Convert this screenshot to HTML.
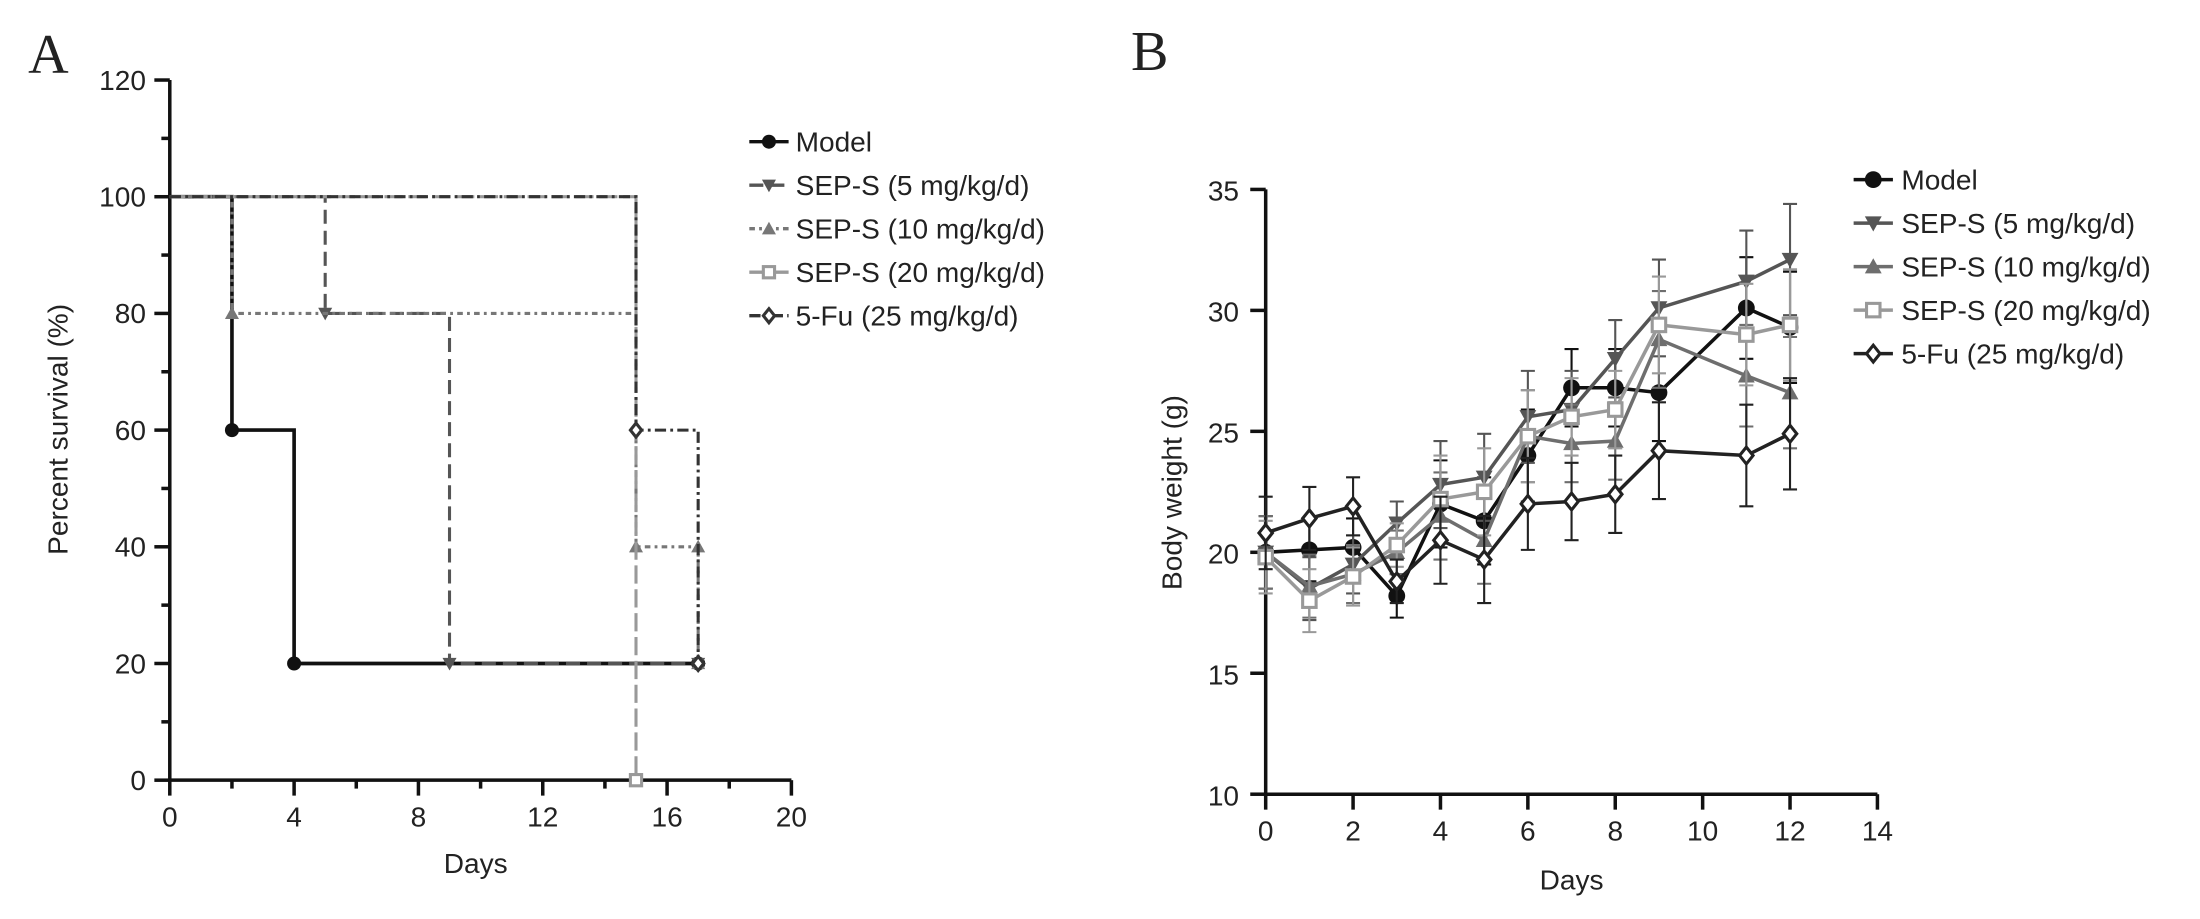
<!DOCTYPE html>
<html><head><meta charset="utf-8"><style>
body{margin:0;background:#fff}
svg text{font-family:"Liberation Sans",Arial,sans-serif;fill:#222}
</style></head><body>
<svg id="s" width="2200" height="914" xmlns="http://www.w3.org/2000/svg">
<g transform="scale(1.4032)">
<text x="20" y="52" font-size="40" style="font-family:'Liberation Serif',serif">A</text>
<text x="806" y="50" font-size="40" style="font-family:'Liberation Serif',serif">B</text>
<g id="ga"></g>
<g id="gb"></g>
</g>
</svg>
<script>
// ---- Panel A data ----
const aNames=["Model","SEP-S (5 mg/kg/d)","SEP-S (10 mg/kg/d)","SEP-S (20 mg/kg/d)","5-Fu (25 mg/kg/d)"];
const aTimes0=[0,2,4,17];const aSurv0=[100,60,20,20];
const aTimes1=[0,5,9,17];const aSurv1=[100,80,20,20];
const aTimes2=[0,2,15,17,17];const aSurv2=[100,80,40,40,20];
const aTimes3=[0,15];const aSurv3=[100,0];
const aTimes4=[0,15,17];const aSurv4=[100,60,20];
const aXTicks=[0,4,8,12,16,20];const aYTicks=[0,20,40,60,80,100,120];
// ---- Panel B data ----
const bDays=[0,1,2,3,4,5,6,7,8,9,11,12];
const bModel=[20.0,20.1,20.2,18.2,22.0,21.3,24.0,26.8,26.8,26.6,30.1,29.3];
const bSep5=[20.0,18.5,19.5,21.2,22.8,23.1,25.6,25.9,28.0,30.1,31.2,32.1];
const bSep10=[20.0,18.6,19.1,20.0,21.5,20.5,24.8,24.5,24.6,28.8,27.3,26.6];
const bSep20=[19.8,18.0,19.0,20.3,22.2,22.5,24.8,25.6,25.9,29.4,29.0,29.4];
const bFu=[20.8,21.4,21.9,18.8,20.5,19.7,22.0,22.1,22.4,24.2,24.0,24.9];
const bErr=[1.5,1.3,1.2,0.9,1.8,1.8,1.9,1.6,1.6,2.0,2.1,2.3];
const bXTicks=[0,2,4,6,8,10,12,14];const bYTicks=[10,15,20,25,30,35];

const NS="http://www.w3.org/2000/svg";
function mk(p,t,a){const e=document.createElementNS(NS,t);for(const k in a)e.setAttribute(k,a[k]);p.appendChild(e);return e;}
function marker(g,type,x,y,c,r){
 if(type==="circle")return mk(g,"circle",{cx:x,cy:y,r:r,fill:c});
 if(type==="down")return mk(g,"path",{d:`M${x-r},${y-r*0.8}L${x+r},${y-r*0.8}L${x},${y+r}Z`,fill:c});
 if(type==="up")return mk(g,"path",{d:`M${x-r},${y+r*0.8}L${x+r},${y+r*0.8}L${x},${y-r}Z`,fill:c});
 if(type==="square")return mk(g,"rect",{x:x-r*0.8,y:y-r*0.8,width:r*1.6,height:r*1.6,fill:"#fff",stroke:c,"stroke-width":2.2});
 return mk(g,"path",{d:`M${x},${y-r}L${x+r*0.8},${y}L${x},${y+r}L${x-r*0.8},${y}Z`,fill:"#fff",stroke:c,"stroke-width":2.2});
}
// ---- Panel A ----
const ga=document.getElementById("ga");
const ax=v=>121+v*22.15, ay=v=>556-v*4.158;
mk(ga,"line",{x1:121,y1:ay(120),x2:121,y2:556,stroke:"#111","stroke-width":2.5});
mk(ga,"line",{x1:121,y1:556,x2:ax(20),y2:556,stroke:"#111","stroke-width":2.5});
aYTicks.forEach(v=>{mk(ga,"line",{x1:110,y1:ay(v),x2:121,y2:ay(v),stroke:"#111","stroke-width":2.5});
 const t=mk(ga,"text",{x:104,y:ay(v)+7,"font-size":20,"text-anchor":"end"});t.textContent=v;
 
 });
for(let v=10;v<120;v+=20)mk(ga,"line",{x1:115,y1:ay(v),x2:121,y2:ay(v),stroke:"#111","stroke-width":2.5});
aXTicks.forEach(v=>{mk(ga,"line",{x1:ax(v),y1:556,x2:ax(v),y2:567,stroke:"#111","stroke-width":2.5});
 const t=mk(ga,"text",{x:ax(v),y:589,"font-size":20,"text-anchor":"middle"});t.textContent=v;
 
 });
for(let v=2;v<20;v+=4)mk(ga,"line",{x1:ax(v),y1:556,x2:ax(v),y2:562,stroke:"#111","stroke-width":2.5});
let t=mk(ga,"text",{x:339,y:622,"font-size":20,"text-anchor":"middle"});t.textContent="Days";

t=mk(ga,"text",{x:48,y:306,"font-size":20,"text-anchor":"middle",transform:"rotate(-90 48 306)"});t.textContent="Percent survival (%)";

const aT=[aTimes0,aTimes1,aTimes2,aTimes3,aTimes4],aS=[aSurv0,aSurv1,aSurv2,aSurv3,aSurv4];
const aCol=["#111","#555","#777","#999","#333"],aDash=["","10,5","4,3,2,3","13,4","8,3,2,3"],aMk=["circle","down","up","square","diamond"];
for(let s=0;s<5;s++){
 const g=mk(ga,"g",{});
 let d=`M${ax(aT[s][0])},${ay(aS[s][0])}`;
 for(let i=1;i<aT[s].length;i++){d+=`H${ax(aT[s][i])}V${ay(aS[s][i])}`;}
 mk(g,"path",{d:d,fill:"none",stroke:aCol[s],"stroke-width":s==0?2.6:2.2,"stroke-dasharray":aDash[s]});
 for(let i=1;i<aT[s].length;i++)marker(g,aMk[s],ax(aT[s][i]),ay(aS[s][i]),aCol[s],5);
}
aNames.forEach((n,i)=>{const y=101+i*31;
 const g=mk(ga,"g",{});
 mk(g,"line",{x1:534,y1:y,x2:562,y2:y,stroke:aCol[i],"stroke-width":2.4,"stroke-dasharray":aDash[i]});
 marker(g,aMk[i],548,y,aCol[i],5);
 const tt=mk(g,"text",{x:567,y:y+7,"font-size":20});tt.textContent=n;});
// ---- Panel B ----
const gb=document.getElementById("gb");
const bx=v=>902+v*31.14, by=v=>566-(v-10)*17.24;
mk(gb,"line",{x1:902,y1:by(35),x2:902,y2:566,stroke:"#111","stroke-width":2.5});
mk(gb,"line",{x1:902,y1:566,x2:bx(14),y2:566,stroke:"#111","stroke-width":2.5});
bYTicks.forEach(v=>{mk(gb,"line",{x1:891,y1:by(v),x2:902,y2:by(v),stroke:"#111","stroke-width":2.5});
 const t=mk(gb,"text",{x:883,y:by(v)+8,"font-size":20,"text-anchor":"end"});t.textContent=v;
 
 });
bXTicks.forEach(v=>{mk(gb,"line",{x1:bx(v),y1:566,x2:bx(v),y2:577,stroke:"#111","stroke-width":2.5});
 const t=mk(gb,"text",{x:bx(v),y:599,"font-size":20,"text-anchor":"middle"});t.textContent=v;
 
 });
t=mk(gb,"text",{x:1120,y:634,"font-size":20,"text-anchor":"middle"});t.textContent="Days";

t=mk(gb,"text",{x:842,y:351,"font-size":20,"text-anchor":"middle",transform:"rotate(-90 842 351)"});t.textContent="Body weight (g)";

const bS=[bModel,bSep5,bSep10,bSep20,bFu],bCol=["#111","#555","#6e6e6e","#999","#222"],bMk=["circle","down","up","square","diamond"];
const bNames=aNames;
for(let s=0;s<5;s++){
 const g=mk(gb,"g",{});
 bDays.forEach((d,i)=>{const x=bx(d),y1=by(bS[s][i]+bErr[i]),y2=by(bS[s][i]-bErr[i]);
  mk(g,"path",{d:`M${x},${y1}V${y2}M${x-5},${y1}H${x+5}M${x-5},${y2}H${x+5}`,stroke:bCol[s],"stroke-width":1.5,fill:"none"});});
 mk(g,"polyline",{points:bDays.map((d,i)=>bx(d)+","+by(bS[s][i])).join(" "),fill:"none",stroke:bCol[s],"stroke-width":2.5});
 bDays.forEach((d,i)=>marker(g,bMk[s],bx(d),by(bS[s][i]),bCol[s],6));
}
bNames.forEach((n,i)=>{const y=128+i*31;
 const g=mk(gb,"g",{});
 mk(g,"line",{x1:1321,y1:y,x2:1349,y2:y,stroke:bCol[i],"stroke-width":2.5});
 marker(g,bMk[i],1335,y,bCol[i],6);
 const tt=mk(g,"text",{x:1355,y:y+7,"font-size":20});tt.textContent=n;});
</script>
</body></html>
